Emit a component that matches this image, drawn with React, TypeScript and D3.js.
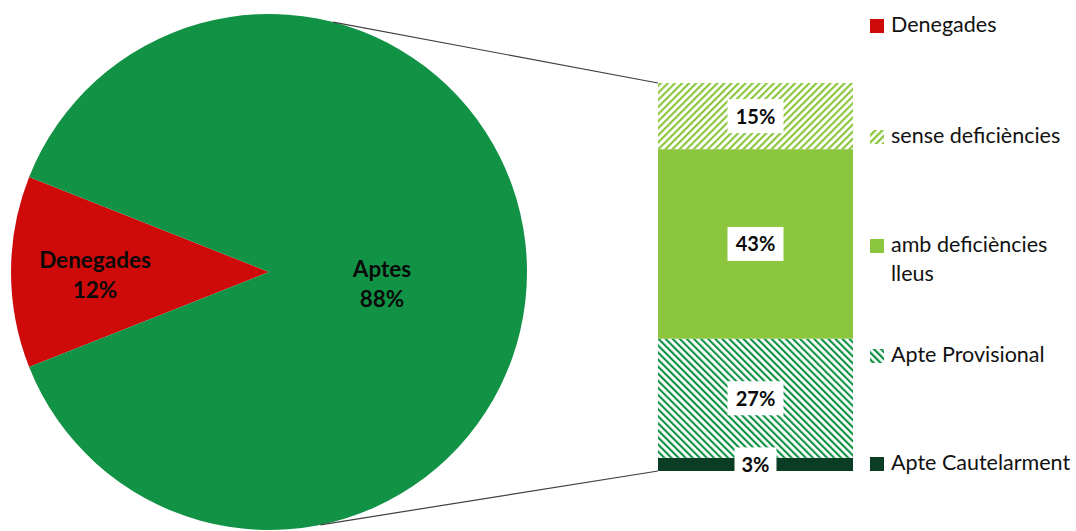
import React from "react";
import * as d3 from "d3";

// ---- data ----
const pieCategories = ["Denegades", "Aptes"];
const pieValues = [12, 88];
const pieLabels = ["12%", "88%"];

const barCategories = ["Apte Cautelarment", "Apte Provisional", "amb deficiències lleus", "sense deficiències"];
const barValues = [3, 27, 43, 15];
const barLabels = ["3%", "27%", "43%", "15%"];

const legendItems = ["Denegades", "sense deficiències", "amb deficiències|lleus", "Apte Provisional", "Apte Cautelarment"];

// ---- styles / layout ----
const W = 1076, H = 531;
const FONT = "Lato, 'Open Sans', sans-serif";
const RED = "#CE0A0A";
const GREEN = "#119245";
const LIGHT = "#8CC63F";
const DARK = "#0B3D24";
const cx = 269, cy = 272, R = 258;
const barX0 = 658, barX1 = 853, barTop = 83, barBottom = 471;
const topConnAngle = (14.4 * Math.PI) / 180;
const botConnAngle = (168.5 * Math.PI) / 180;

const barFills = [DARK, "url(#hatchDark)", LIGHT, "url(#hatchLight)"];
const legendFills = [RED, "url(#hatchLightL)", LIGHT, "url(#hatchDarkL)", DARK];
const legendY = [19, 130, 239, 349, 457];

export default function App() {
  const start = 1.5 * Math.PI - (pieValues[0] / d3.sum(pieValues)) * Math.PI;
  const pie = d3.pie<number>().sort(null).startAngle(start).endAngle(start + 2 * Math.PI);
  const arcs = pie(pieValues);
  const arc = d3.arc<d3.PieArcDatum<number>>().innerRadius(0).outerRadius(R);
  const pieColors = [RED, GREEN];
  const pieLabelPos: [number, number][] = [
    [95, 268],
    [382, 277],
  ];

  const total = d3.sum(barValues);
  const y = d3.scaleLinear().domain([0, total]).range([barBottom, barTop]);
  let acc = 0;
  const stacks = barValues.map((v) => {
    const s = { y0: acc, y1: acc + v };
    acc += v;
    return s;
  });

  const pt = (a: number): [number, number] => [cx + R * Math.sin(a), cy - R * Math.cos(a)];
  const pTop = pt(topConnAngle);
  const pBot = pt(botConnAngle);

  const labelW = (t: string) => (t.length === 2 ? 42 : 56);

  return (
    <svg width={W} height={H} style={{ position: "absolute", left: 0, top: 0, background: "#fff" }} fontFamily={FONT}>
      <defs>
        <pattern id="hatchLight" width={5} height={5} patternUnits="userSpaceOnUse" patternTransform="rotate(45)">
          <rect width={5} height={5} fill="#fff" />
          <line x1={1} y1={0} x2={1} y2={5} stroke={LIGHT} strokeWidth={2.3} />
        </pattern>
        <pattern id="hatchDark" width={5} height={5} patternUnits="userSpaceOnUse" patternTransform="rotate(-45)">
          <rect width={5} height={5} fill="#fff" />
          <line x1={1} y1={0} x2={1} y2={5} stroke={GREEN} strokeWidth={2.3} />
        </pattern>
        <pattern id="hatchLightL" width={5} height={5} patternUnits="userSpaceOnUse" patternTransform="rotate(45)">
          <rect width={5} height={5} fill="#fff" />
          <line x1={1} y1={0} x2={1} y2={5} stroke={LIGHT} strokeWidth={2.6} />
        </pattern>
        <pattern id="hatchDarkL" width={5} height={5} patternUnits="userSpaceOnUse" patternTransform="rotate(-45)">
          <rect width={5} height={5} fill="#fff" />
          <line x1={1} y1={0} x2={1} y2={5} stroke={GREEN} strokeWidth={2.6} />
        </pattern>
      </defs>

      {/* pie */}
      <g transform={`translate(${cx},${cy})`}>
        {arcs.map((a, i) => (
          <path key={pieCategories[i]} d={arc(a) || ""} fill={pieColors[i]} />
        ))}
      </g>
      {pieCategories.map((c, i) => (
        <text key={c} x={pieLabelPos[i][0]} y={pieLabelPos[i][1]} textAnchor="middle" fontWeight="bold" fontSize={22.5} fill="#0a0a0a">
          <tspan x={pieLabelPos[i][0]}>{c}</tspan>
          <tspan x={pieLabelPos[i][0]} dy={30}>{pieLabels[i]}</tspan>
        </text>
      ))}

      {/* connectors */}
      <line x1={pTop[0]} y1={pTop[1]} x2={barX0} y2={barTop} stroke="#404040" strokeWidth={1.2} />
      <line x1={pBot[0]} y1={pBot[1]} x2={barX0} y2={barBottom} stroke="#404040" strokeWidth={1.2} />

      {/* bar */}
      {stacks.map((s, i) => (
        <rect key={barCategories[i]} x={barX0} width={barX1 - barX0} y={y(s.y1)} height={y(s.y0) - y(s.y1)} fill={barFills[i]} />
      ))}
      {stacks.map((s, i) => {
        const my = (y(s.y0) + y(s.y1)) / 2;
        const mx = (barX0 + barX1) / 2;
        const w = labelW(barLabels[i]);
        return (
          <g key={"l" + i}>
            <rect x={mx - w / 2} y={my - 17} width={w} height={34} fill="#fff" />
            <text x={mx} y={my + 7.5} textAnchor="middle" fontWeight="bold" fontSize={20} fill="#0a0a0a">
              {barLabels[i]}
            </text>
          </g>
        );
      })}

      {/* legend */}
      {legendItems.map((t, i) => {
        const lines = t.split("|");
        return (
          <g key={t}>
            <rect x={870} y={legendY[i]} width={14} height={14} fill={legendFills[i]} />
            <text x={891} y={legendY[i] + 13} fontSize={21.5} fill="#111">
              {lines.map((ln, j) => (
                <tspan key={j} x={891} dy={j === 0 ? 0 : 29}>
                  {ln}
                </tspan>
              ))}
            </text>
          </g>
        );
      })}
    </svg>
  );
}
